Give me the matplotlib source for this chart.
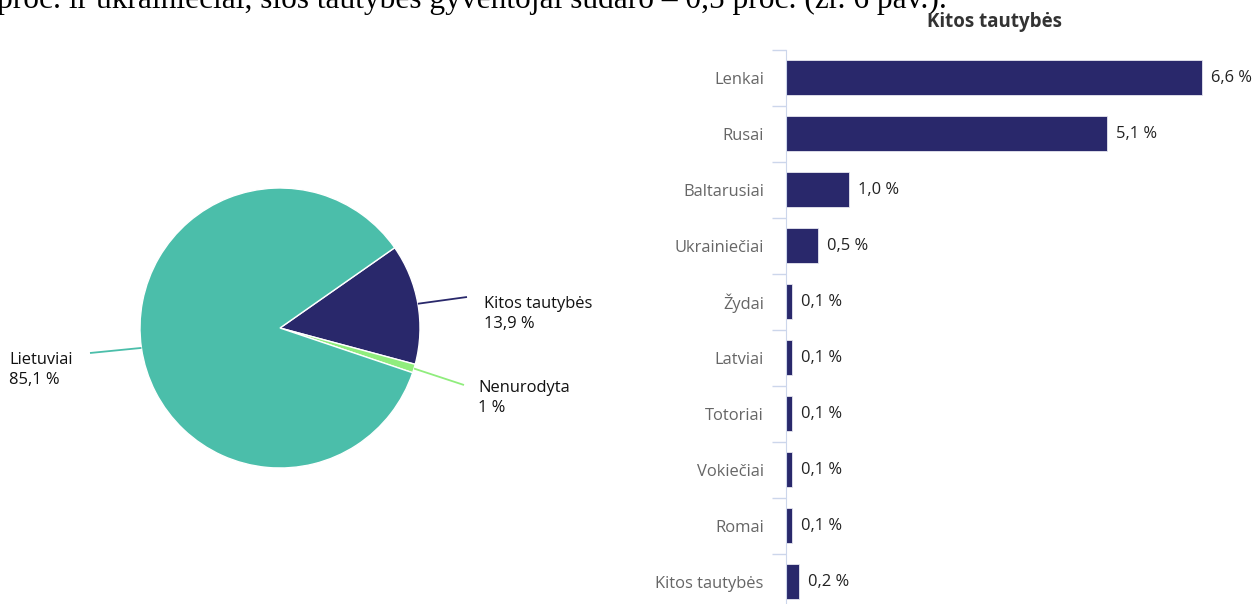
import numpy as np
import matplotlib.pyplot as plt

# pie: share of population
pie_labels = ['Kitos tautybės', 'Nenurodyta', 'Lietuviai']
pie_values = [13.9, 1.0, 85.1]
pie_text = ['13,9 %', '1 %', '85,1 %']
pie_colors = ['#29286b', '#90ed7d', '#4bbeaa']

# bars: other nationalities
bar_labels = ['Lenkai', 'Rusai', 'Baltarusiai', 'Ukrainiečiai', 'Žydai',
              'Latviai', 'Totoriai', 'Vokiečiai', 'Romai', 'Kitos tautybės']
bar_values = [6.6, 5.1, 1.0, 0.5, 0.1, 0.1, 0.1, 0.1, 0.1, 0.2]
bar_text = ['6,6 %', '5,1 %', '1,0 %', '0,5 %', '0,1 %',
            '0,1 %', '0,1 %', '0,1 %', '0,1 %', '0,2 %']

W, H = 1255, 604
plt.rcParams['font.family'] = ['Open Sans', 'DejaVu Sans']
fig = plt.figure(figsize=(W / 100, H / 100), dpi=100)

# line of document text cut at the top
top_line = 'proc. ir ukrainiečiai, šios tautybės gyventojai sudaro – 0,5 proc. (žr. 6 pav.).'
t = fig.text(-3 / W, 1 - 8 / H, top_line, family='Liberation Serif', fontsize=16,
             va='baseline', ha='left', color='black')
fig.canvas.draw()
w = t.get_window_extent().width
t.set_fontsize(16 * 948 / w)

lab_fs = 11.9

# ---- pie ----
cx, cy, r = 280, 328, 140
ax = fig.add_axes([0, 0, 620 / W, 1])
pie = ax.pie(pie_values, colors=pie_colors, startangle=35, counterclock=False,
             radius=1, center=(0, 0),
             wedgeprops=dict(edgecolor='white', linewidth=1))
ax.set_xlim(-cx / r, (620 - cx) / r)
ax.set_ylim(-(H - cy) / r, cy / r)
ax.set_aspect('auto')
ax.axis('off')

# label end points (pixels) and text anchor (centre of first line)
ends = [(467, 297), (464, 385), (90, 353)]
txt_pos = [(484, 306), (478, 390), (9, 362)]
for wdg, name, txt, col, e, tp in zip(pie[0], pie_labels, pie_text, pie_colors, ends, txt_pos):
    mid = np.deg2rad((wdg.theta1 + wdg.theta2) / 2)
    x0, y0 = np.cos(mid), np.sin(mid)
    ex, ey = (e[0] - cx) / r, (cy - e[1]) / r
    ax.plot([x0, ex], [y0, ey], color=col, lw=1.3, clip_on=False,
            solid_capstyle='butt')
    ax.text((tp[0] - cx) / r, (cy - tp[1] + 10) / r, name + '\n' + txt, fontsize=lab_fs,
            ha='left', va='top', color='#111111', linespacing=1.3,
            clip_on=False)

# ---- bars ----
left, right, top, bottom = 786, W, 49.5, 609.5
bx = fig.add_axes([left / W, (H - bottom) / H, (right - left) / W, (bottom - top) / H])
ypos = np.arange(len(bar_labels))
bx.barh(ypos, bar_values, height=0.61, color='#29286b', edgecolor='#e6e6ef', linewidth=0.6)
bx.set_xlim(0, (right - left) / 63)
bx.set_ylim(len(bar_labels) - 0.5, -0.5)
for sp in ['top', 'right', 'bottom']:
    bx.spines[sp].set_visible(False)
bx.spines['left'].set_color('#ccd6eb')
bx.xaxis.set_visible(False)
bx.set_yticks(ypos)
bx.set_yticklabels(bar_labels, fontsize=lab_fs, color='#666666')
bx.tick_params(axis='y', which='major', length=0, pad=16)
bx.set_yticks(np.arange(len(bar_labels) + 1) - 0.5, minor=True)
bx.tick_params(axis='y', which='minor', length=10, color='#ccd6eb', width=1)
for yv, v, s in zip(ypos, bar_values, bar_text):
    bx.annotate(s, xy=(v, yv), xytext=(6.5, 0), textcoords='offset points',
                ha='left', va='center', fontsize=lab_fs, color='#222222',
                annotation_clip=False)

fig.text(994 / W, 1 - 22 / H, 'Kitos tautybės', ha='center', va='center',
         fontsize=13.5, fontweight='bold', color='#333333')

fig.savefig('out.png', dpi=100)
